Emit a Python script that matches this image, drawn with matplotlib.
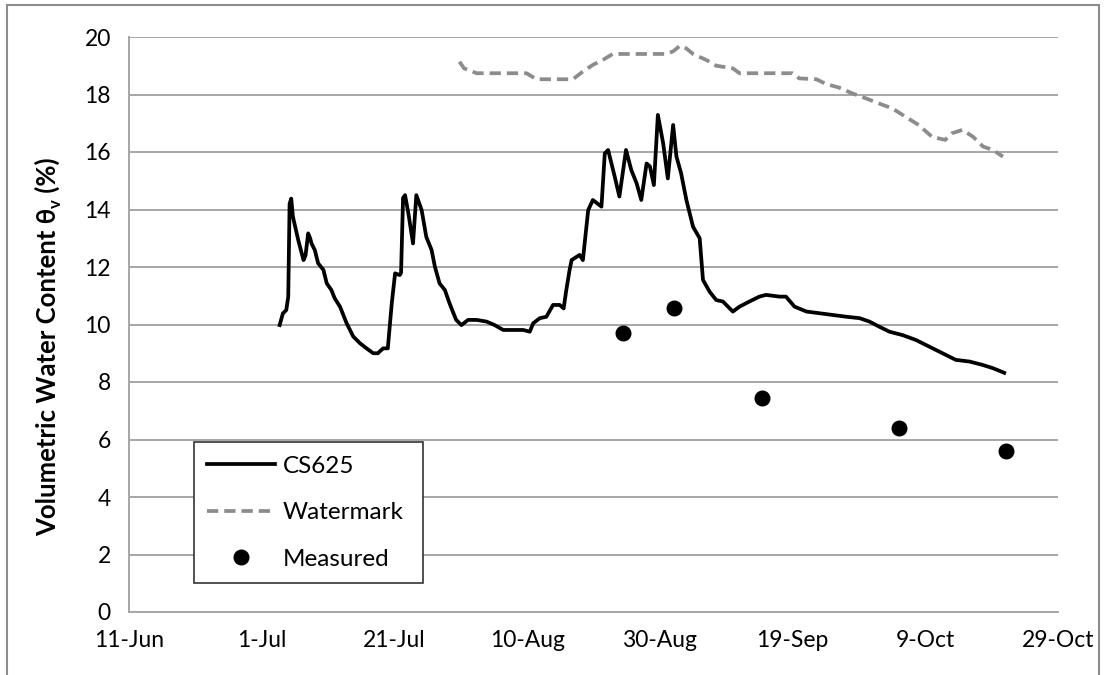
import numpy as np
import matplotlib
matplotlib.use("Agg")
import matplotlib.pyplot as plt
import matplotlib.dates as mdates
from matplotlib.patches import Rectangle

plt.rcParams['font.family'] = ['Lato', 'DejaVu Sans']

# ---- data (days since 11-Jun, value in %) ----
start_date = '2013-06-11'
cs625_day = [22.7, 23.2, 23.7, 24.0, 24.2, 24.45, 24.7, 25.5, 26.3, 26.6, 27.0, 27.3, 27.5,
             28.0, 28.5, 29.3, 29.8, 30.5, 31.0, 31.8, 32.8, 33.8, 34.8, 35.8, 36.8, 37.5,
             38.3, 39.0, 39.6, 40.1, 40.8, 41.0, 41.3, 41.6, 42.1, 42.8, 43.3, 44.1, 44.8,
             45.6, 46.1, 46.8, 47.6, 48.3, 49.3, 50.1, 51.1, 52.4, 53.9, 55.1, 56.4, 57.9,
             59.4, 60.4, 60.9, 61.9, 62.9, 63.9, 64.9, 65.5, 65.9, 66.4, 66.7, 67.9, 68.4,
             69.2, 69.9, 71.2, 71.7, 72.2, 73.2, 73.9, 74.9, 75.7, 76.5, 77.2, 78.0, 78.5,
             79.1, 79.7, 80.5, 81.2, 82.0, 82.5, 83.2, 84.0, 85.0, 86.0, 86.5, 87.5, 88.5,
             89.5, 91.0, 92.0, 93.5, 95.0, 96.0, 98.0, 99.0, 100.3, 102.1, 104.1, 106.1,
             108.1, 110.1, 111.6, 113.1, 114.6, 116.6, 118.6, 120.6, 122.6, 124.6, 126.7,
             128.7, 130.2, 131.9]
cs625_vwc = [9.98, 10.39, 10.5, 10.97, 14.2, 14.38, 13.75, 12.94, 12.24, 12.4, 13.17, 13.0, 12.82,
             12.59, 12.13, 11.9, 11.43, 11.2, 10.91, 10.62, 10.04, 9.58, 9.35, 9.17, 9.0, 9.0,
             9.17, 9.17, 10.74, 11.78, 11.72, 11.8, 14.4, 14.5, 13.87, 12.82, 14.5, 13.98, 13.05,
             12.59, 12.01, 11.43, 11.2, 10.74, 10.16, 9.98, 10.16, 10.16, 10.1, 9.98, 9.81, 9.81,
             9.81, 9.75, 10.04, 10.22, 10.27, 10.68, 10.68, 10.56, 11.2, 11.9, 12.24, 12.42, 12.24,
             13.98, 14.33, 14.1, 15.95, 16.07, 15.14, 14.45, 16.07, 15.37, 14.91, 14.33, 15.6, 15.5,
             14.85, 17.29, 16.3, 15.08, 16.94, 15.84, 15.26, 14.33, 13.4, 13.0, 11.55, 11.14, 10.85,
             10.8, 10.45, 10.62, 10.8, 10.97, 11.03, 10.97, 10.97, 10.62, 10.45, 10.39, 10.33,
             10.27, 10.22, 10.1, 9.92, 9.75, 9.63, 9.46, 9.23, 9.0, 8.77, 8.71,
             8.59, 8.48, 8.32]

watermark_day = [49.8, 50.5, 52.4, 59.9, 61.4, 66.9, 68.4, 69.9, 71.4, 72.9, 81.0, 82.0, 83.0,
                 84.0, 85.0, 87.0, 88.5, 91.0, 92.0, 100.0, 101.0, 103.6, 105.0, 107.0, 109.0,
                 111.0, 113.0, 115.0, 117.0, 119.0, 121.0, 123.0, 124.0, 125.6, 127.2, 128.7,
                 130.2, 131.7]
watermark_vwc = [19.14, 18.91, 18.74, 18.74, 18.53, 18.53, 18.8, 19.03, 19.2, 19.41, 19.41, 19.5, 19.69,
                 19.6, 19.41, 19.2, 19.0, 18.91, 18.74, 18.74, 18.56, 18.53, 18.37, 18.24, 18.04,
                 17.87, 17.69, 17.52, 17.23, 16.94, 16.53, 16.42, 16.65, 16.77, 16.53, 16.19,
                 16.07, 15.84]

measured_day = [74.4, 82.2, 95.4, 116.1, 132.1]
measured_vwc = [9.69, 10.56, 7.43, 6.41, 5.6]

tick_days = [0, 20, 40, 60, 80, 100, 120, 140]
tick_labels = ['11-Jun', '1-Jul', '21-Jul', '10-Aug', '30-Aug', '19-Sep', '9-Oct', '29-Oct']
y_ticks = [0, 2, 4, 6, 8, 10, 12, 14, 16, 18, 20]

base = mdates.datestr2num(start_date)
def to_x(days):
    return base + np.asarray(days, dtype=float)

fig = plt.figure(figsize=(11.05, 6.75), dpi=100)
W, H = 1105, 675
ax = fig.add_axes([129 / W, 1 - 612 / H, (1058 - 129) / W, (612 - 37) / H])

grid_c = '#a6a6a6'
ax.set_ylim(0, 20)
ax.set_xlim(to_x([0])[0], to_x([140])[0])
ax.set_yticks(y_ticks)
ax.set_xticks(to_x(tick_days))
ax.set_xticklabels(tick_labels)
ax.yaxis.grid(True, color=grid_c, lw=1.4)
ax.set_axisbelow(True)
for s in ['top', 'right']:
    ax.spines[s].set_visible(False)
for s in ['left', 'bottom']:
    ax.spines[s].set_color(grid_c)
    ax.spines[s].set_linewidth(1.4)
ax.tick_params(axis='both', length=0, labelsize=16.5, colors='black')
ax.tick_params(axis='x', pad=13)
ax.tick_params(axis='y', pad=13)

l1, = ax.plot(to_x(cs625_day), cs625_vwc, color='black', lw=2.7, label='CS625',
              solid_joinstyle='round')
l2, = ax.plot(to_x(watermark_day), watermark_vwc, color='#8c8c8c', lw=2.7,
              linestyle=(0, (3.0, 1.6)), label='Watermark')
l3, = ax.plot(to_x(measured_day), measured_vwc, 'o', color='black', ms=10.5,
              label='Measured', linestyle='none')

leg = ax.legend(handles=[l1, l2, l3], loc='lower left',
                bbox_to_anchor=(65 / 929, 29 / 575, (423 - 194) / 929, (583 - 441) / 575),
                mode='expand', fontsize=17.5, frameon=True, fancybox=False,
                edgecolor='#333333', framealpha=1, handlelength=2.8, handletextpad=0.3,
                labelspacing=1.05, borderaxespad=0, borderpad=0.55)
leg.get_frame().set_linewidth(1.2)

# y-axis label assembled with subscript
fig.canvas.draw()
r = fig.canvas.get_renderer()
lab_x = 56 / W
y0 = 1 - 536 / H
fs = 18.5
t1 = fig.text(lab_x, y0, 'Volumetric Water Content θ', rotation=90, rotation_mode='anchor',
              ha='left', va='baseline', fontsize=fs, fontweight='bold')
bb = t1.get_window_extent(r)
y1 = bb.y1 / (H)
t2 = fig.text(lab_x + 5 / W, y1, 'v', rotation=90, rotation_mode='anchor',
              ha='left', va='baseline', fontsize=fs * 0.65, fontweight='bold')
bb2 = t2.get_window_extent(r)
t3 = fig.text(lab_x, bb2.y1 / H, ' (%)', rotation=90, rotation_mode='anchor',
              ha='left', va='baseline', fontsize=fs, fontweight='bold')

# outer chart border
fig.patches.append(Rectangle((7 / W, -0.01), (1099 - 7) / W, 1 - 5 / H + 0.01,
                             transform=fig.transFigure, fill=False,
                             edgecolor='#8c8c8c', lw=1.5))

fig.savefig('out.png', dpi=100)
